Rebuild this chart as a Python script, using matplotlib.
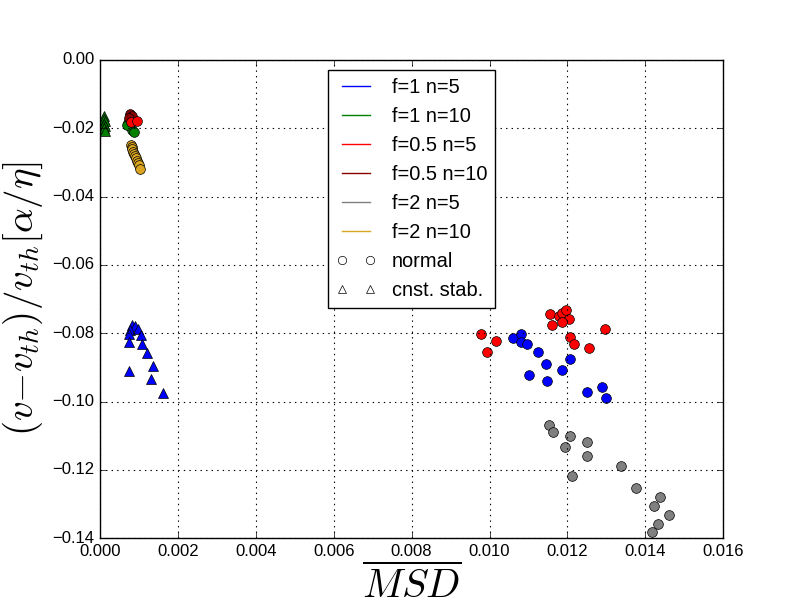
import matplotlib
matplotlib.use("Agg")
import matplotlib.pyplot as plt
from matplotlib.lines import Line2D
from matplotlib.ticker import FuncFormatter

plt.style.use('classic')
plt.rcParams['font.family'] = ['Liberation Sans', 'DejaVu Sans']
plt.rcParams['mathtext.fontset'] = 'cm'

# ---- data ----
# f=1 n=5, normal
f1n5_x = [0.010614, 0.010812, 0.010812, 0.010973, 0.011256, 0.011446, 0.011025,
          0.011479, 0.011864, 0.012077, 0.012514, 0.012884, 0.013002]
f1n5_y = [-0.0815, -0.0803, -0.0825, -0.0830, -0.0856, -0.0891, -0.0923,
          -0.0940, -0.0909, -0.0874, -0.0972, -0.0956, -0.0989]
# f=0.5 n=5, normal
f05n5_x = [0.009792, 0.010177, 0.009946, 0.011556, 0.011615, 0.011795, 0.011872,
           0.011959, 0.012052, 0.011872, 0.012077, 0.012165, 0.012566, 0.012968,
           0.000788, 0.000958]
f05n5_y = [-0.0801, -0.0824, -0.0856, -0.0744, -0.0776, -0.0750, -0.0740,
           -0.0732, -0.0757, -0.0768, -0.0812, -0.0832, -0.0844, -0.0788,
           -0.0181, -0.0179]
# f=2 n=5, normal
f2n5_x = [0.011538, 0.011641, 0.012077, 0.011949, 0.012499, 0.012514, 0.012129,
          0.013387, 0.013765, 0.014389, 0.014227, 0.014620, 0.014337, 0.014168]
f2n5_y = [-0.1069, -0.1088, -0.1101, -0.1133, -0.1117, -0.1160, -0.1219,
          -0.1189, -0.1252, -0.1278, -0.1307, -0.1331, -0.1357, -0.1383]
# f=1 n=10, normal
f1n10_x = [0.000727, 0.000814, 0.000881, 0.000686]
f1n10_y = [-0.01855, -0.0205, -0.0212, -0.0190]
# f=0.5 n=10, normal
f05n10_x = [0.000770, 0.000814, 0.000753]
f05n10_y = [-0.0158, -0.0164, -0.0171]
# f=2 n=10, normal
f2n10_x = [0.000788, 0.000814, 0.000830, 0.000855, 0.000881, 0.000899, 0.000924,
           0.000950, 0.000968, 0.000994, 0.001027]
f2n10_y = [-0.0249, -0.0256, -0.0262, -0.0269, -0.0275, -0.0281, -0.0288,
           -0.0295, -0.0301, -0.0308, -0.0320]
# f=1 n=5, cnst. stab.
f1n5_cs_x = [0.000814, 0.000899, 0.000770, 0.000968, 0.000745, 0.001045, 0.000753,
             0.001087, 0.001199, 0.001353, 0.000737, 0.001310, 0.001626]
f1n5_cs_y = [-0.0776, -0.0778, -0.0791, -0.0788, -0.0803, -0.0805, -0.0827,
             -0.0830, -0.0859, -0.0896, -0.0910, -0.0934, -0.0974]
# f=1 n=10, cnst. stab.
f1n10_cs_x = [0.000110, 0.000115, 0.000120, 0.000110, 0.000125, 0.000115, 0.000120]
f1n10_cs_y = [-0.0165, -0.0172, -0.0179, -0.0186, -0.0193, -0.0200, -0.0207]

labels = ['f=1 n=5', 'f=1 n=10', 'f=0.5 n=5', 'f=0.5 n=10', 'f=2 n=5', 'f=2 n=10']
colors = ['b', 'g', 'r', 'darkred', '0.5', 'goldenrod']
x_ticks = [0.000, 0.002, 0.004, 0.006, 0.008, 0.010, 0.012, 0.014, 0.016]

fig = plt.figure(figsize=(8, 6), dpi=100)
fig.subplots_adjust(left=0.125, right=0.904, bottom=0.103, top=0.9)
ax = fig.add_subplot(111)

ms = 7
normal = [(f1n5_x, f1n5_y, 0), (f2n5_x, f2n5_y, 4), (f1n10_x, f1n10_y, 1),
          (f05n10_x, f05n10_y, 3), (f05n5_x, f05n5_y, 2), (f2n10_x, f2n10_y, 5)]
for xs, ys, ci in normal:
    ax.plot(xs, ys, linestyle='none', marker='o', markersize=ms,
            markerfacecolor=colors[ci], markeredgecolor='k')
cs = [(f1n5_cs_x, f1n5_cs_y, 0), (f1n10_cs_x, f1n10_cs_y, 1)]
for xs, ys, ci in cs:
    ax.plot(xs, ys, linestyle='none', marker='^', markersize=ms,
            markerfacecolor=colors[ci], markeredgecolor='k')

ax.set_xlim(0, 0.016)
ax.set_ylim(-0.14, 0)
ax.set_xticks(x_ticks)
ax.xaxis.set_major_formatter(FuncFormatter(lambda v, p: ('%.3f' % v).replace('-', '\u2212')))
ax.yaxis.set_major_formatter(FuncFormatter(
    lambda v, p: ('%.2f' % (0.0 if abs(v) < 1e-12 else v)).replace('-', '\u2212')))
ax.grid(True, color='k', linestyle=':', linewidth=0.8)

ax.set_xlabel(r'$\overline{MSD}$', fontsize=29)
ax.set_ylabel(r'$(v{-}v_{th})/v_{th}[\alpha/\eta]$', fontsize=28)

handles = [Line2D([], [], color=c, linewidth=1) for c in colors]
handles.append(Line2D([], [], linestyle='none', marker='o', markersize=6,
                      markerfacecolor='white', markeredgecolor='k'))
handles.append(Line2D([], [], linestyle='none', marker='^', markersize=6,
                      markerfacecolor='white', markeredgecolor='k'))
ax.legend(handles, labels + ['normal', 'cnst. stab.'], loc='upper center',
          numpoints=2, fontsize=14.4)

fig.savefig('out.png', dpi=100)
